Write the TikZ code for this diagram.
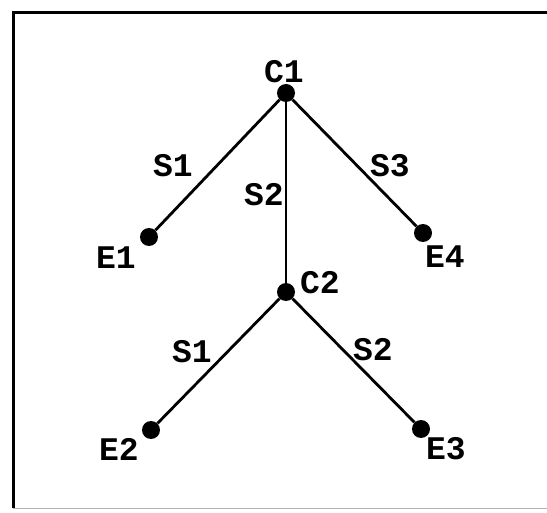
\documentclass[tikz,border=0pt]{standalone}
\usepackage{fontspec}
\setmonofont{Liberation Mono}
\begin{document}
\begin{tikzpicture}[x=1pt,y=-1pt,
  dot/.style={circle,fill=black,inner sep=0pt,minimum size=18pt},
  edge/.style={line width=2.8pt},
  lbl/.style={font=\ttfamily\bfseries\fontsize{33}{33}\selectfont,inner sep=0pt}]
\useasboundingbox (0,0) rectangle (547,513);
\draw[line width=3pt] (547,13) -- (13,13) -- (13,508);
\draw[line width=1pt,gray!60] (13,508) -- (547,508);
\node[dot] (c1) at (286,93) {};
\node[dot] (c2) at (286,292) {};
\node[dot] (e1) at (149,237) {};
\node[dot] (e4) at (423,233) {};
\node[dot] (e2) at (151,430) {};
\node[dot] (e3) at (421,429) {};
\draw[edge] (c1) -- (e1);
\draw[edge] (c1) -- (e4);
\draw[edge] (c1) -- (c2);
\draw[edge] (c2) -- (e2);
\draw[edge] (c2) -- (e3);
\node[lbl] (lc1) at (284,72) {C1};
\node[lbl] (lc2) at (320,283) {C2};
\node[lbl] (le1) at (116,258) {E1};
\node[lbl] (le4) at (445,257) {E4};
\node[lbl] (le2) at (119,449) {E2};
\node[lbl] (le3) at (446,449) {E3};
\node[lbl] (s1a) at (173,166) {S1};
\node[lbl] (s2a) at (264,195) {S2};
\node[lbl] (s3a) at (390,166) {S3};
\node[lbl] (s1b) at (192,352) {S1};
\node[lbl] (s2b) at (373,350) {S2};
\end{tikzpicture}
\end{document}
